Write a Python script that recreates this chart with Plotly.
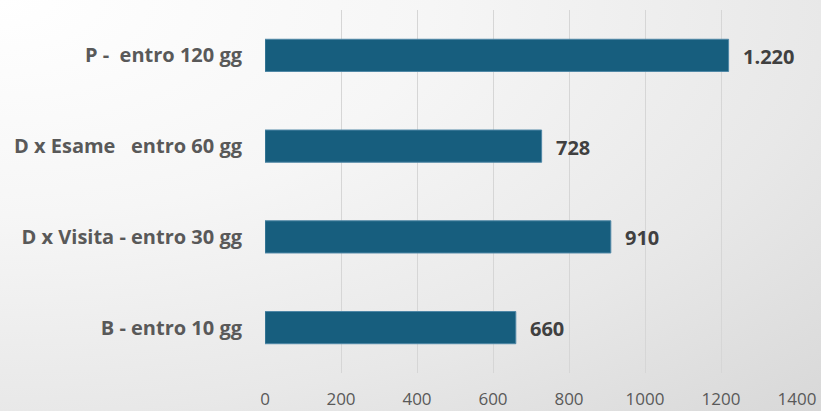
import plotly.graph_objects as go

categories = ["P -  entro 120 gg", "D x Esame   entro 60 gg", "D x Visita - entro 30 gg", "B - entro 10 gg"]
values = [1220, 728, 910, 660]
x_ticks = [0, 200, 400, 600, 800, 1000, 1200, 1400]

W, H = 821, 411
FONT = "Open Sans"

def nb(s):
    return s.replace(" ", "\u00a0")

def fmt(v):
    return f"{v:,}".replace(",", ".")

cat_labels = [nb(c) for c in categories]

fig = go.Figure()

# background gradient (full paper)
fig.add_trace(go.Scatter(
    x=[-1.5, 1.5, 1.5, -1.5, -1.5], y=[-0.5, -0.5, 2.5, 2.5, -0.5],
    mode="lines", fill="toself", line=dict(width=0),
    fillgradient=dict(type="radial",
                      colorscale=[[0, "#ffffff"], [0.35, "#f6f6f6"], [0.67, "#e8e8e8"], [0.94, "#d8d8d8"], [1, "#d5d5d5"]]),
    hoverinfo="skip", showlegend=False, xaxis="x", yaxis="y"))

fig.add_trace(go.Bar(
    x=values, y=cat_labels, orientation="h",
    marker=dict(color="#175e7e", line=dict(color="#4f87a6", width=1)),
    xaxis="x2", yaxis="y2", showlegend=False, hoverinfo="skip"))

for c, v in zip(cat_labels, values):
    fig.add_annotation(x=v, y=c, xref="x2", yref="y2", text=fmt(v), showarrow=False,
                       xanchor="left", xshift=12, yshift=-1,
                       font=dict(family=FONT, size=20, color="#404040", weight="bold"))

x0, x1 = 265 / W, 797 / W
y0, y1 = 1 - 373 / H, 1 - 10 / H

fig.update_layout(
    width=W, height=H,
    margin=dict(l=0, r=0, t=0, b=0),
    paper_bgcolor="#ececec", plot_bgcolor="rgba(0,0,0,0)",
    bargap=0.645,
    xaxis=dict(domain=[0, 1], range=[0, 1], visible=False, fixedrange=True),
    yaxis=dict(domain=[0, 1], range=[0, 1], visible=False, fixedrange=True),
    xaxis2=dict(domain=[x0, x1], anchor="y2", range=[0, 1400], tickvals=x_ticks,
                ticktext=[str(t) for t in x_ticks], showgrid=True, gridcolor="#d6d6d6", gridwidth=1,
                zeroline=False, showline=False, ticks="", ticklabelstandoff=14, automargin=False,
                tickfont=dict(family=FONT, size=17, color="#595959")),
    yaxis2=dict(domain=[y0, y1], anchor="x2", autorange="reversed", showgrid=False, zeroline=False,
                showline=False, ticks="", ticklabelstandoff=22, automargin=False,
                tickfont=dict(family=FONT, size=20, color="#595959", weight="bold")),
)

fig.write_html("out.html", config={"displayModeBar": False, "staticPlot": True},
               post_script="document.body.style.margin='0';document.body.style.overflow='hidden';")
